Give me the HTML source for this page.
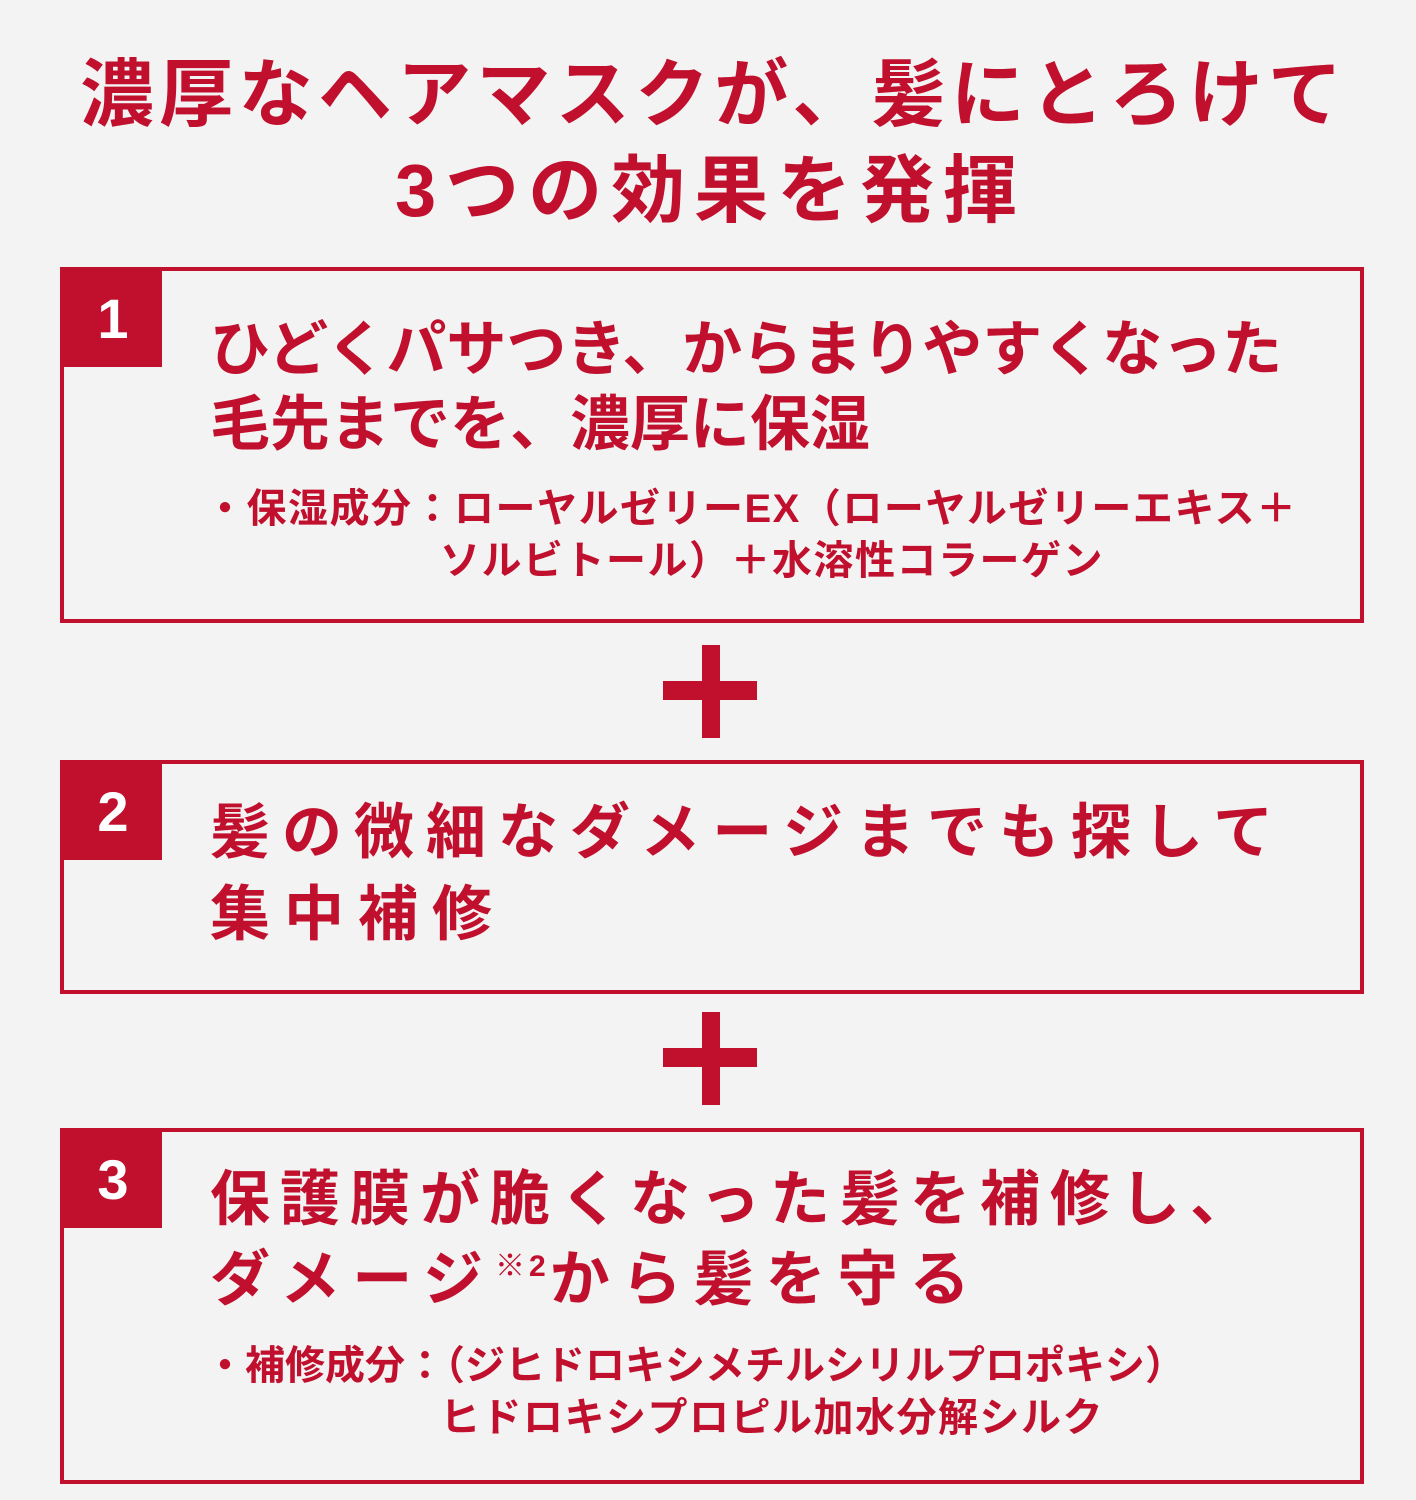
<!DOCTYPE html>
<html><head><meta charset="utf-8"><style>
body{margin:0;width:1416px;height:1500px;background:#f3f3f3;position:relative;overflow:hidden;font-family:"Liberation Sans","Noto Sans CJK JP",sans-serif;color:#c0102e}
.t{position:absolute;white-space:nowrap;font-weight:bold;line-height:1}
.box{position:absolute;left:60px;width:1296px;border:4px solid #c0102e;box-sizing:content-box}
.num{position:absolute;left:0;top:0;width:98px;height:96px;background:#c0102e;color:#fff;font-weight:bold;font-size:56px;text-align:center;line-height:96px}
.pv{position:absolute;left:702px;width:18px;height:93px;background:#c0102e}
.ph{position:absolute;left:663px;width:94px;height:19px;background:#c0102e}
.s{position:absolute;white-space:nowrap;font-size:40px;line-height:1;font-weight:bold;letter-spacing:1.5px}
</style></head><body>
<div class="t" style="left:80px;top:58px;font-size:74px;letter-spacing:5.3px">濃厚なヘアマスクが、髪にとろけて</div>
<div class="t" style="left:395px;top:154px;font-size:74px;letter-spacing:9px">3つの効果を発揮</div>

<div class="box" style="top:267px;height:348px"><div class="num">1</div></div>
<div class="t" style="left:210px;top:320px;font-size:60px">ひどくパサつき、からまりやすくなった</div>
<div class="t" style="left:210px;top:395px;font-size:60px">毛先までを、濃厚に保湿</div>
<div class="s" style="left:205px;top:489px">・保湿成分：ローヤルゼリーEX（ローヤルゼリーエキス＋</div>
<div class="s" style="left:440px;top:541px">ソルビトール）＋水溶性コラーゲン</div>

<div class="pv" style="top:645px"></div><div class="ph" style="top:681px"></div>

<div class="box" style="top:760px;height:226px"><div class="num">2</div></div>
<div class="t" style="left:210px;top:803px;font-size:60px;letter-spacing:12px">髪の微細なダメージまでも探して</div>
<div class="t" style="left:210px;top:885px;font-size:60px;letter-spacing:14px">集中補修</div>

<div class="pv" style="top:1012px"></div><div class="ph" style="top:1048px"></div>

<div class="box" style="top:1128px;height:348px"><div class="num">3</div></div>
<div class="t" style="left:210px;top:1170px;font-size:60px;letter-spacing:10px">保護膜が脆くなった髪を補修し、</div>
<div class="t" style="left:210px;top:1250px;font-size:60px;letter-spacing:12px">ダメージ<span style="font-size:30px;vertical-align:24px;letter-spacing:4px">※2</span>から髪を守る</div>
<div class="s" style="left:205px;top:1346px;letter-spacing:0">・補修成分：（ジヒドロキシメチルシリルプロポキシ）</div>
<div class="s" style="left:440px;top:1398px">ヒドロキシプロピル加水分解シルク</div>
</body></html>
